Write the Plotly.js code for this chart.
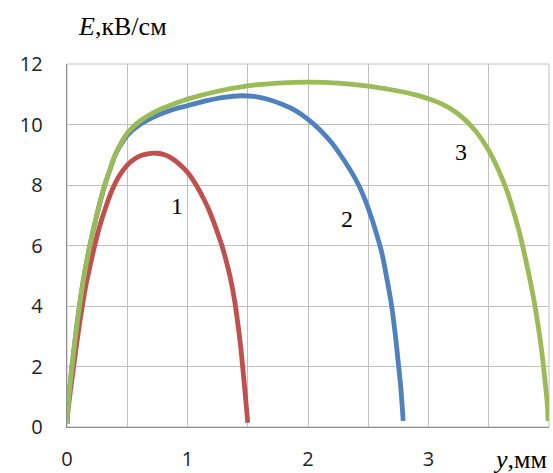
<!DOCTYPE html>
<html>
<head>
<meta charset="utf-8">
<script src="https://cdn.plot.ly/plotly-3.0.1.min.js"></script>
<style>html,body{margin:0;padding:0;background:#fff;}#chart{width:553px;height:473px;}</style>
</head>
<body>
<div id="chart"></div>
<script>
// Curve 1 (red)
const x1 = [0, 0.01, 0.025, 0.04, 0.055, 0.075, 0.1, 0.127, 0.16, 0.19, 0.23, 0.27, 0.32, 0.376, 0.43, 0.5, 0.56, 0.62, 0.68, 0.746, 0.81, 0.87, 0.93, 1.0, 1.072, 1.12, 1.17, 1.22, 1.26, 1.293, 1.33, 1.36, 1.39, 1.42, 1.44, 1.46, 1.48, 1.5];
const y1 = [0.15, 0.6, 1.1, 1.55, 2.0, 2.6, 3.3, 4.0, 4.75, 5.3, 6.0, 6.62, 7.25, 7.85, 8.28, 8.66, 8.86, 8.98, 9.04, 9.05, 9.0, 8.88, 8.7, 8.42, 8.0, 7.65, 7.25, 6.75, 6.3, 5.9, 5.35, 4.85, 4.2, 3.35, 2.7, 1.9, 1.05, 0.14];
// Curve 2 (blue)
const x2 = [0, 0.01, 0.025, 0.05, 0.075, 0.1, 0.14, 0.19, 0.25, 0.31, 0.36, 0.4, 0.45, 0.5, 0.6, 0.75, 0.9, 1.0, 1.15, 1.3, 1.45, 1.55, 1.65, 1.79, 1.9, 2.0, 2.1, 2.2, 2.26, 2.35, 2.42, 2.47, 2.52, 2.56, 2.61, 2.65, 2.69, 2.72, 2.75, 2.77, 2.79];
const y2 = [0.1, 0.75, 1.4, 2.3, 3.15, 3.9, 4.95, 6.0, 7.05, 7.95, 8.55, 8.98, 9.36, 9.64, 9.98, 10.3, 10.52, 10.62, 10.78, 10.9, 10.95, 10.93, 10.85, 10.66, 10.45, 10.17, 9.82, 9.38, 9.05, 8.5, 8.0, 7.55, 7.0, 6.5, 5.8, 5.0, 4.1, 3.2, 2.1, 1.3, 0.2];
// Curve 3 (green)
const x3 = [0, 0.01, 0.025, 0.05, 0.075, 0.1, 0.14, 0.19, 0.25, 0.31, 0.36, 0.4, 0.45, 0.5, 0.6, 0.75, 0.9, 1.0, 1.25, 1.5, 1.75, 2.0, 2.25, 2.5, 2.76, 2.9, 3.0, 3.1, 3.2, 3.3, 3.4, 3.5, 3.58, 3.647, 3.7, 3.75, 3.786, 3.83, 3.87, 3.9, 3.93, 3.95, 3.97, 3.985, 3.993];
const y3 = [0.1, 0.75, 1.4, 2.3, 3.15, 3.9, 4.95, 6.0, 7.05, 7.95, 8.55, 9.0, 9.4, 9.72, 10.1, 10.46, 10.7, 10.84, 11.1, 11.28, 11.37, 11.4, 11.37, 11.27, 11.1, 10.97, 10.85, 10.7, 10.48, 10.17, 9.74, 9.14, 8.5, 7.85, 7.2, 6.5, 5.9, 5.1, 4.3, 3.6, 2.8, 2.15, 1.4, 0.8, 0.2];
// Tick labels
const xTickVals = [0, 1, 2, 3];
const xTickText = ['0', '1', '2', '3'];
const xMinorVals = [0.5, 1.5, 2.5, 3.5];
const yTickVals = [0, 2, 4, 6, 8, 10, 12];
// Curve labels
const labelText = ['1', '2', '3'];
const labelX = [0.91, 2.32, 3.27];
const labelY = [7.3, 6.88, 9.09];

const colors = ['#C0504D', '#4F81BD', '#9BBB59'];
const lw = 4.8;
const mk = (x, y, c) => ({x, y, type: 'scatter', mode: 'lines',
  line: {color: c, width: lw, shape: 'spline', smoothing: 1}, hoverinfo: 'skip'});
const data = [mk(x1, y1, colors[0]), mk(x2, y2, colors[1]), mk(x3, y3, colors[2])];

const grid = '#BFBFBF';
const serif = 'Liberation Serif, Times New Roman, serif';
const annotations = labelText.map((t, i) => ({
  x: labelX[i], y: labelY[i], xref: 'x', yref: 'y', text: t, showarrow: false,
  font: {family: serif, size: 24, color: '#000'}
}));
annotations.push({
  xref: 'paper', yref: 'paper', x: 0.018, y: (427 - 27) / 363, xanchor: 'left', yanchor: 'middle',
  text: '<i>E</i>,кВ/см', showarrow: false,
  font: {family: serif, size: 26, color: '#000'}
});
annotations.push({
  xref: 'paper', yref: 'paper', x: 1.0, y: (427 - 460) / 363, xanchor: 'right', yanchor: 'middle',
  text: '<i>y</i>,мм', showarrow: false,
  font: {family: serif, size: 26, color: '#000'}
});

const layout = {
  width: 553, height: 473,
  margin: {l: 67, r: 4, t: 64, b: 46, pad: 0},
  paper_bgcolor: '#fff', plot_bgcolor: '#fff',
  showlegend: false,
  xaxis: {
    range: [0, 4], tickvals: xTickVals, ticktext: xTickText,
    showgrid: true, gridcolor: grid, gridwidth: 1, zeroline: false,
    showline: true, linecolor: '#8C8C8C', linewidth: 1.3,
    ticks: '', ticklabelstandoff: 14,
    tickfont: {family: 'Open Sans, sans-serif', size: 20, color: '#222'},
    minor: {tickvals: xMinorVals, showgrid: true, gridcolor: grid, gridwidth: 1},
    fixedrange: true
  },
  yaxis: {
    range: [0, 12], tickvals: yTickVals,
    showgrid: true, gridcolor: grid, gridwidth: 1, zeroline: false,
    showline: true, linecolor: '#8C8C8C', linewidth: 1.3,
    ticks: '', ticklabelstandoff: 19,
    tickfont: {family: 'Open Sans, sans-serif', size: 20, color: '#222'},
    fixedrange: true
  },
  shapes: [{type: 'rect', xref: 'paper', yref: 'paper', x0: 0, x1: 1, y0: 0, y1: 1,
    line: {color: grid, width: 1}, layer: 'below'}],
  annotations: annotations
};
Plotly.newPlot('chart', data, layout, {displayModeBar: false, staticPlot: true});
</script>
</body>
</html>
